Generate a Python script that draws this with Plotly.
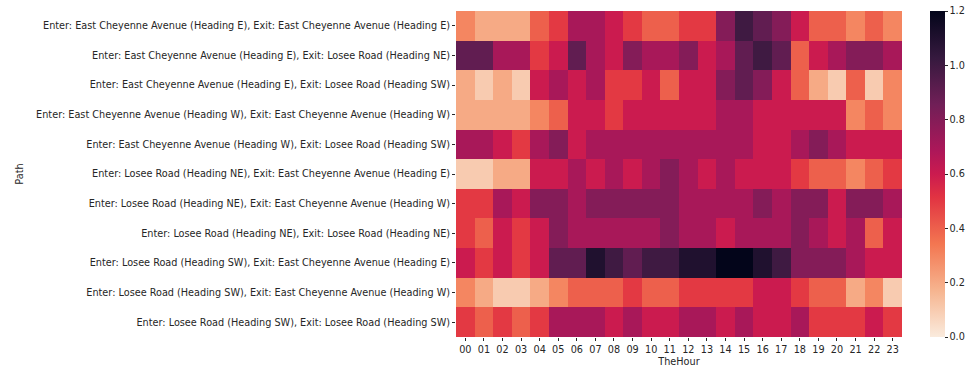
import plotly.graph_objects as go

hours = [f"{h:02d}" for h in range(24)]
paths = [
    "Enter: East Cheyenne Avenue (Heading E), Exit: East Cheyenne Avenue (Heading E)",
    "Enter: East Cheyenne Avenue (Heading E), Exit: Losee Road (Heading NE)",
    "Enter: East Cheyenne Avenue (Heading E), Exit: Losee Road (Heading SW)",
    "Enter: East Cheyenne Avenue (Heading W), Exit: East Cheyenne Avenue (Heading W)",
    "Enter: East Cheyenne Avenue (Heading W), Exit: Losee Road (Heading SW)",
    "Enter: Losee Road (Heading NE), Exit: East Cheyenne Avenue (Heading E)",
    "Enter: Losee Road (Heading NE), Exit: East Cheyenne Avenue (Heading W)",
    "Enter: Losee Road (Heading NE), Exit: Losee Road (Heading NE)",
    "Enter: Losee Road (Heading SW), Exit: East Cheyenne Avenue (Heading E)",
    "Enter: Losee Road (Heading SW), Exit: East Cheyenne Avenue (Heading W)",
    "Enter: Losee Road (Heading SW), Exit: Losee Road (Heading SW)",
]

row_e_e_e = [0.3, 0.2, 0.2, 0.2, 0.4, 0.5, 0.7, 0.7, 0.6, 0.5, 0.4, 0.4, 0.5, 0.5, 0.8, 1.0, 0.9, 0.8, 0.6, 0.4, 0.4, 0.3, 0.4, 0.3]
row_e_lne = [0.9, 0.9, 0.7, 0.7, 0.5, 0.6, 0.9, 0.7, 0.6, 0.8, 0.7, 0.7, 0.8, 0.6, 0.7, 0.9, 1.0, 0.9, 0.4, 0.6, 0.7, 0.8, 0.8, 0.7]
row_e_lsw = [0.2, 0.1, 0.2, 0.1, 0.6, 0.7, 0.6, 0.7, 0.5, 0.5, 0.6, 0.4, 0.6, 0.6, 0.8, 0.9, 0.8, 0.6, 0.4, 0.2, 0.1, 0.4, 0.1, 0.3]
row_w_e_w = [0.2, 0.2, 0.2, 0.2, 0.3, 0.4, 0.6, 0.6, 0.5, 0.6, 0.6, 0.6, 0.6, 0.6, 0.7, 0.7, 0.6, 0.6, 0.6, 0.6, 0.6, 0.3, 0.4, 0.3]
row_w_lsw = [0.7, 0.7, 0.6, 0.5, 0.7, 0.8, 0.6, 0.7, 0.7, 0.7, 0.7, 0.7, 0.7, 0.7, 0.7, 0.7, 0.6, 0.6, 0.7, 0.8, 0.7, 0.6, 0.6, 0.6]
row_ne_ee = [0.1, 0.1, 0.2, 0.2, 0.6, 0.6, 0.7, 0.6, 0.7, 0.6, 0.7, 0.8, 0.7, 0.6, 0.7, 0.6, 0.6, 0.6, 0.5, 0.4, 0.4, 0.3, 0.4, 0.5]
row_ne_ew = [0.5, 0.5, 0.7, 0.6, 0.8, 0.8, 0.7, 0.8, 0.8, 0.8, 0.8, 0.8, 0.7, 0.7, 0.7, 0.7, 0.8, 0.7, 0.8, 0.8, 0.6, 0.8, 0.8, 0.7]
row_ne_lne = [0.5, 0.4, 0.6, 0.5, 0.6, 0.8, 0.7, 0.7, 0.7, 0.7, 0.7, 0.8, 0.7, 0.7, 0.6, 0.7, 0.7, 0.7, 0.8, 0.7, 0.6, 0.7, 0.4, 0.6]
row_sw_ee = [0.6, 0.5, 0.6, 0.5, 0.6, 0.9, 0.9, 1.1, 1.0, 0.9, 1.0, 1.0, 1.1, 1.1, 1.2, 1.2, 1.1, 1.0, 0.8, 0.8, 0.8, 0.7, 0.6, 0.6]
row_sw_ew = [0.3, 0.2, 0.1, 0.1, 0.2, 0.3, 0.4, 0.4, 0.4, 0.5, 0.4, 0.4, 0.5, 0.5, 0.5, 0.5, 0.6, 0.6, 0.5, 0.4, 0.4, 0.2, 0.3, 0.1]
row_sw_lsw = [0.5, 0.4, 0.5, 0.4, 0.5, 0.7, 0.7, 0.7, 0.6, 0.7, 0.6, 0.6, 0.7, 0.7, 0.6, 0.7, 0.6, 0.6, 0.7, 0.5, 0.5, 0.5, 0.6, 0.5]

values = [row_e_e_e, row_e_lne, row_e_lsw, row_w_e_w, row_w_lsw,
          row_ne_ee, row_ne_ew, row_ne_lne, row_sw_ee, row_sw_ew, row_sw_lsw]

rocket_r = [
    [0.0, "#faebdd"],
    [0.143, "#f6b48f"],
    [0.286, "#f37651"],
    [0.429, "#e13342"],
    [0.5, "#cb1b4f"],
    [0.571, "#ad1759"],
    [0.714, "#701f57"],
    [0.857, "#35193e"],
    [1.0, "#03051a"],
]

font = dict(family="DejaVu Sans", size=9.7, color="#262626")

fig = go.Figure(go.Heatmap(
    z=values, x=hours, y=paths,
    colorscale=rocket_r, zmin=0, zmax=1.2,
    xgap=0, ygap=0,
    colorbar=dict(
        x=1.063, xanchor="left", y=0.5, yanchor="middle",
        len=1.0, lenmode="fraction", thickness=15,
        xpad=0, ypad=0,
        outlinewidth=0, ticks="outside", ticklen=3, tickcolor="#262626",
        tickmode="array",
        tickvals=[0, 0.2, 0.4, 0.6, 0.8, 1.0, 1.2],
        ticktext=["0.0", "0.2", "0.4", "0.6", "0.8", "1.0", "1.2"],
        tickfont=font,
    ),
))

fig.update_layout(
    width=976, height=375,
    margin=dict(l=456, r=74, t=11, b=38, autoexpand=False),
    paper_bgcolor="white", plot_bgcolor="white",
    font=font,
    xaxis=dict(title=dict(text="TheHour", font=font, standoff=4),
               ticks="outside", ticklen=3, tickcolor="#262626",
               showgrid=False, zeroline=False, showline=False, tickangle=0,
               automargin=False),
    yaxis=dict(title=dict(text="Path", font=font, standoff=10),
               autorange="reversed",
               ticks="outside", ticklen=3, tickcolor="#262626",
               showgrid=False, zeroline=False, showline=False,
               automargin=False),
)

fig.write_html("out.html",
               config={"displayModeBar": False},
               post_script="document.body.style.margin='0px';document.body.style.overflow='hidden';")
